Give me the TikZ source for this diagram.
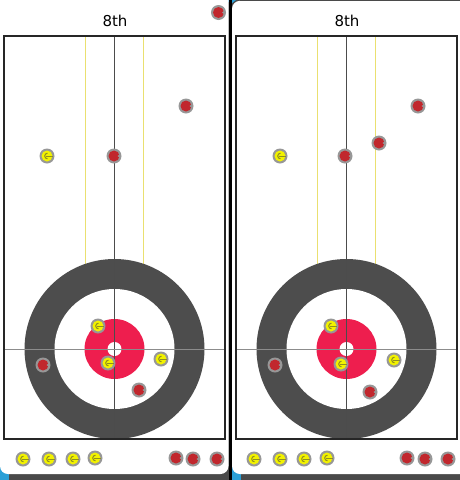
\documentclass[tikz,border=0pt]{standalone}
\usepackage{fontspec}
\newfontfamily\uifont{DejaVu Sans}
\definecolor{bg}{HTML}{4A4A4A}
\definecolor{ringgray}{HTML}{4D4D4D}
\definecolor{button}{HTML}{EE1E4E}
\definecolor{stonegray}{HTML}{979797}
\definecolor{stonered}{HTML}{C1272D}
\definecolor{stoneyellow}{HTML}{F2F200}
\definecolor{handley}{HTML}{8F8F20}
\definecolor{hogyellow}{HTML}{EAE070}
\definecolor{uiblue}{HTML}{2A9FD6}
\tikzset{
  ystone/.pic={
    \fill[stonegray] (0,0) circle (7.5);
    \fill[stoneyellow] (0,0) circle (5.5);
    \draw[handley, line width=1] (0.5,-2.8) arc[start angle=-90, end angle=-270, radius=2.8];
    \draw[handley, line width=1] (-1.2,0) -- (5.5,0);
  },
  rstone/.pic={
    \fill[stonegray] (0,0) circle (7.5);
    \fill[stonered] (0,0) circle (5.5);
    \fill[stonegray] (6,-2) -- (3.6,0) -- (6,2) -- cycle;
  },
  sheetline/.style={black!85, line width=1.3},
  centreline/.style={black!70, line width=0.8},
  teeline/.style={black!45, line width=0.8},
  hogline/.style={hogyellow, line width=0.9},
  titletext/.style={font=\uifont\fontsize{15}{18}\selectfont, text=black}
}
\newcommand\curlingsheet{%
  \draw[hogline] (85,36) -- (85,323);
  \draw[hogline] (143.5,36) -- (143.5,323);
  \fill[ringgray] (114.5,349) circle (90);
  \fill[white] (114.5,349) circle (60);
  \fill[button] (114.5,349) circle (30);
  \fill[white] (114.5,349) circle (7);
  \draw[centreline] (114.5,36) -- (114.5,439);
  \draw[teeline] (4,349) -- (225,349);
  \draw[sheetline] (4,36) rectangle (225,439);
}
\begin{document}
\begin{tikzpicture}[x=1pt,y=-1pt]
\useasboundingbox (0,0) rectangle (460,480);
\fill[bg] (0,0) rectangle (460,480);
\fill[uiblue] (0,462) rectangle (9,480);
\fill[uiblue] (232,462) rectangle (241,480);
\fill[uiblue] (226,0) -- (236,0) -- (231,4) -- cycle;
\fill[white, rounded corners=8] (0,-20) rectangle (228.5,474);
\fill[black] (228.5,0) rectangle (232,480);
\fill[white, rounded corners=8] (232,0.8) rectangle (480,474);
\draw[bg, line width=1] (240,0.5) -- (460,0.5);
% left panel
\curlingsheet
\node[titletext] (t1) at (115,21) {8th};
% right panel
\begin{scope}[xshift=232pt]
\curlingsheet
\end{scope}
\node[titletext] (t2) at (347,21) {8th};
% left stones
\pic at (218.5,12.5) {rstone};
\pic at (47,156) {ystone};
\pic at (114,156) {rstone};
\pic at (186,106) {rstone};
\pic at (98,326) {ystone};
\pic at (108,363) {ystone};
\pic at (161,359) {ystone};
\pic at (43,365) {rstone};
\pic at (139,390) {rstone};
\pic at (23,459) {ystone};
\pic at (49,459) {ystone};
\pic at (73,459) {ystone};
\pic at (95,458) {ystone};
\pic at (176,458) {rstone};
\pic at (193,459) {rstone};
\pic at (217,459) {rstone};
% right stones
\pic at (280,156) {ystone};
\pic at (345,156) {rstone};
\pic at (379,143) {rstone};
\pic at (418,106) {rstone};
\pic at (331,326) {ystone};
\pic at (341,364) {ystone};
\pic at (394,360) {ystone};
\pic at (275,365) {rstone};
\pic at (370,392) {rstone};
\pic at (254,459) {ystone};
\pic at (280,459) {ystone};
\pic at (304,459) {ystone};
\pic at (327,458) {ystone};
\pic at (407,458) {rstone};
\pic at (425,459) {rstone};
\pic at (448,459) {rstone};
\end{tikzpicture}
\end{document}
